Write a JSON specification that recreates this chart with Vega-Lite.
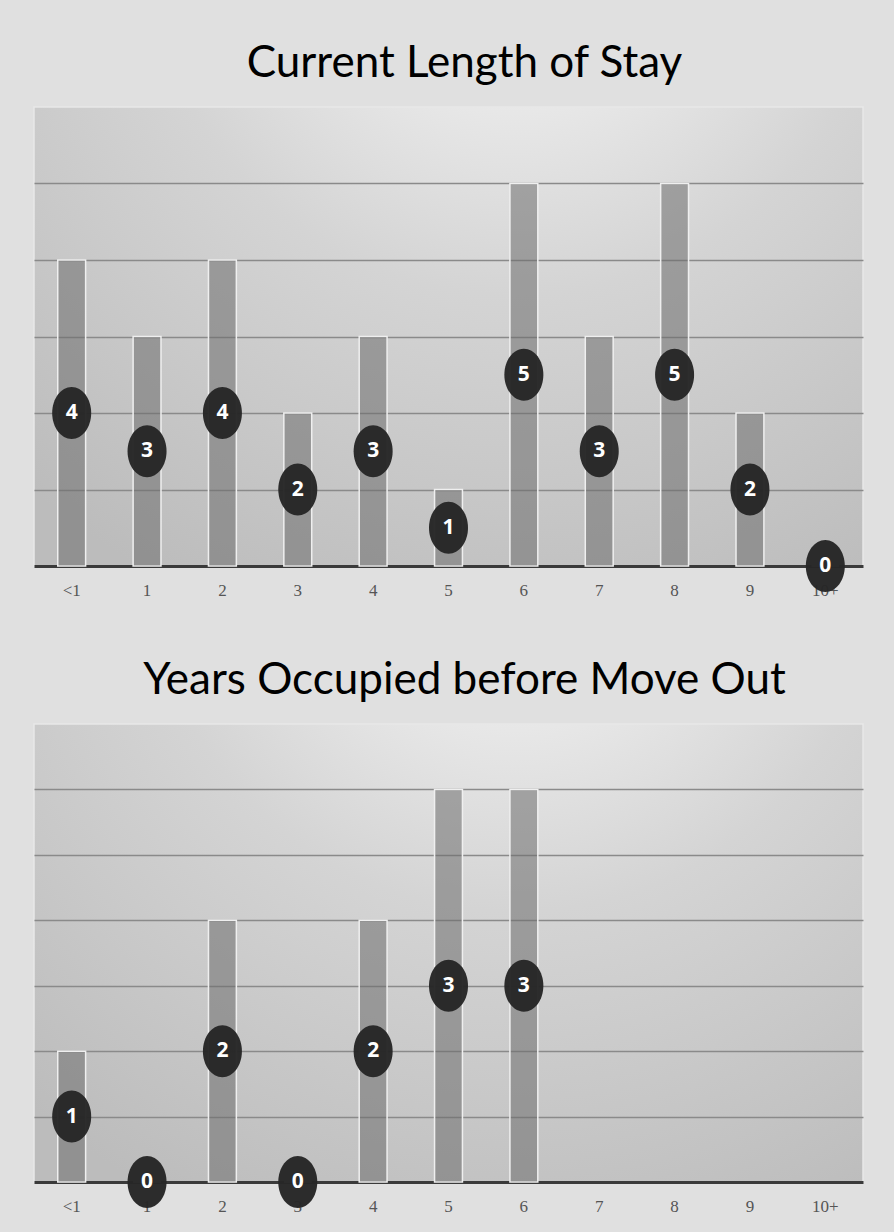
{
  "$schema": "https://vega.github.io/schema/vega-lite/v6.json",
  "background": "#e0e0e0",
  "padding": {"left": 33, "right": 32, "top": 41, "bottom": 20},
  "spacing": 59,
  "config": {
    "view": {
      "stroke": "#e8e8e8",
      "strokeWidth": 1.5,
      "fill": {
        "gradient": "radial",
        "x1": 0.58, "y1": 0, "r1": 0,
        "x2": 0.58, "y2": 0, "r2": 0.9,
        "stops": [
          {"offset": 0, "color": "#fbfbfb"},
          {"offset": 0.5, "color": "#d4d4d4"},
          {"offset": 1, "color": "#bcbcbc"}
        ]
      }
    },
    "title": {"font": "Lato", "fontSize": 44, "fontWeight": "normal", "color": "#000000", "anchor": "middle", "offset": 21, "dx": 16},
    "axisX": {
      "labelFont": "Liberation Serif", "labelFontSize": 17, "labelColor": "#555555",
      "labelPadding": 16, "labelAngle": 0, "ticks": false,
      "domainColor": "#3a3a3a", "domainWidth": 3, "title": null, "grid": false
    }
  },
  "vconcat": [
    {
      "title": "Current Length of Stay",
      "width": 829,
      "height": 459,
      "data": {"values": [
        {"years": "<1", "count": 4},
        {"years": "1", "count": 3},
        {"years": "2", "count": 4},
        {"years": "3", "count": 2},
        {"years": "4", "count": 3},
        {"years": "5", "count": 1},
        {"years": "6", "count": 5},
        {"years": "7", "count": 3},
        {"years": "8", "count": 5},
        {"years": "9", "count": 2},
        {"years": "10+", "count": 0}
      ]},
      "layer": [
        {
          "mark": {"type": "bar", "fill": "#6e6e6e", "fillOpacity": 0.55, "stroke": "#efefef", "strokeWidth": 1.5},
          "encoding": {
            "x": {"field": "years", "type": "ordinal", "sort": null,
              "scale": {"domain": ["<1","1","2","3","4","5","6","7","8","9","10+"], "paddingInner": 0.63, "paddingOuter": 0.315}},
            "y": {"field": "count", "type": "quantitative",
              "scale": {"domain": [0, 6], "nice": false},
              "axis": {"values": [1,2,3,4,5], "grid": true, "gridColor": "#8a8a8a", "gridWidth": 1.5, "labels": false, "ticks": false, "domain": false, "title": null}}
          }
        },
        {
          "encoding": {
            "x": {"field": "years", "type": "ordinal", "sort": null,
              "scale": {"domain": ["<1","1","2","3","4","5","6","7","8","9","10+"], "paddingInner": 0.63, "paddingOuter": 0.315}},
            "y": {"field": "count", "type": "quantitative", "scale": {"domain": [0, 12], "nice": false}, "axis": null}
          },
          "layer": [
            {"mark": {"type": "point", "shape": "M -0.75 0 A 0.75 1 0 1 0 0.75 0 A 0.75 1 0 1 0 -0.75 0 Z", "size": 2704, "filled": true, "fill": "#262626", "fillOpacity": 0.97, "strokeWidth": 0}},
            {"mark": {"type": "text", "color": "#ffffff", "font": "Open Sans", "fontWeight": "bold", "fontSize": 21, "baseline": "middle", "align": "center"},
             "encoding": {"text": {"field": "count", "type": "quantitative"}}}
          ]
        }
      ],
      "resolve": {"scale": {"y": "independent"}}
    },
    {
      "title": "Years Occupied before Move Out",
      "width": 829,
      "height": 458,
      "data": {"values": [
        {"years": "<1", "count": 1},
        {"years": "1", "count": 0},
        {"years": "2", "count": 2},
        {"years": "3", "count": 0},
        {"years": "4", "count": 2},
        {"years": "5", "count": 3},
        {"years": "6", "count": 3}
      ]},
      "layer": [
        {
          "mark": {"type": "bar", "fill": "#6e6e6e", "fillOpacity": 0.55, "stroke": "#efefef", "strokeWidth": 1.5},
          "encoding": {
            "x": {"field": "years", "type": "ordinal", "sort": null,
              "scale": {"domain": ["<1","1","2","3","4","5","6","7","8","9","10+"], "paddingInner": 0.63, "paddingOuter": 0.315}},
            "y": {"field": "count", "type": "quantitative",
              "scale": {"domain": [0, 3.5], "nice": false},
              "axis": {"values": [0.5,1,1.5,2,2.5,3], "grid": true, "gridColor": "#8a8a8a", "gridWidth": 1.5, "labels": false, "ticks": false, "domain": false, "title": null}}
          }
        },
        {
          "encoding": {
            "x": {"field": "years", "type": "ordinal", "sort": null,
              "scale": {"domain": ["<1","1","2","3","4","5","6","7","8","9","10+"], "paddingInner": 0.63, "paddingOuter": 0.315}},
            "y": {"field": "count", "type": "quantitative", "scale": {"domain": [0, 7], "nice": false}, "axis": null}
          },
          "layer": [
            {"mark": {"type": "point", "shape": "M -0.75 0 A 0.75 1 0 1 0 0.75 0 A 0.75 1 0 1 0 -0.75 0 Z", "size": 2704, "filled": true, "fill": "#262626", "fillOpacity": 0.97, "strokeWidth": 0}},
            {"mark": {"type": "text", "color": "#ffffff", "font": "Open Sans", "fontWeight": "bold", "fontSize": 21, "baseline": "middle", "align": "center"},
             "encoding": {"text": {"field": "count", "type": "quantitative"}}}
          ]
        }
      ],
      "resolve": {"scale": {"y": "independent"}}
    }
  ]
}
